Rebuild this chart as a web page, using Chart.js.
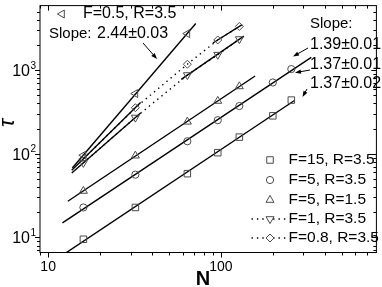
<!DOCTYPE html>
<html>
<head>
<meta charset="utf-8">
<script src="https://cdn.jsdelivr.net/npm/chart.js@4.4.0/dist/chart.umd.min.js"></script>
<style>
    html, body { margin: 0; padding: 0; background: #fff; }
    #wrap { width: 382px; height: 287px; position: relative; }
</style>
</head>
<body>
<div id="wrap"><canvas id="tauChart"></canvas></div>
<script>
// ===== DATA =====
const nAll = [16, 32, 64, 96, 128, 200, 256];
const nShort = [16, 32, 64, 96, 128];
const nF05 = [16, 32, 64];

const tauF15 = [9.5, 22.8, 57.8, 103, 158, 284, 438];
const tauF5R35 = [22.8, 56.2, 141, 252, 372, 711, 1028];
const tauF5R15 = [35.9, 94.8, 241, 427, 638];
const tauF1 = [78, 271, 873, 1528, 2350];
const tauF08 = [87, 355, 1175, 2291, 3322];
const tauF05 = [96, 524, 2730];

const seriesLabels = ['F=15, R=3.5', 'F=5, R=3.5', 'F=5, R=1.5', 'F=1, R=3.5', 'F=0.8, R=3.5'];
const labelF05 = 'F=0.5, R=3.5';

// power-law fits: series, first/last point used, N range of the drawn line
const fitSeries = ['F15', 'F5R35', 'F5R15', 'F1', 'F1', 'F08', 'F08', 'F05'];
const fitFirst  = [0, 0, 0, 0, 2, 0, 3, 0];
const fitLast   = [6, 6, 4, 1, 4, 1, 4, 2];
const fitFrom   = [12, 12.1, 13, 13.7, 59, 13.7, 90, 13.8];
const fitTo     = [267, 334, 158, 34.3, 136, 34.3, 133, 71.6];

const xTickVals = [10, 100];
const xTickLabels = ['10', '100'];
const yTickVals = [10, 100, 1000];
const yTickExp = ['1', '2', '3'];

const slopeLeft = '2.44±0.03';
const slopeRight = ['1.39±0.01', '1.37±0.01', '1.37±0.02'];

// ===== HELPERS =====
const FONT = '"Liberation Sans", Arial, Helvetica, sans-serif';
const markerGray = '#4a4a4a';

const seriesN = { F15: nAll, F5R35: nAll, F5R15: nShort, F1: nShort, F08: nShort, F05: nF05 };
const seriesTau = { F15: tauF15, F5R35: tauF5R35, F5R15: tauF5R15, F1: tauF1, F08: tauF08, F05: tauF05 };

function toPoints(xs, ys) {
    return xs.map((x, i) => ({ x: x, y: ys[i] }));
}

// least squares in log-log space
function fitLine(key, i0, i1, from, to) {
    const lx = seriesN[key].slice(i0, i1 + 1).map(Math.log10);
    const ly = seriesTau[key].slice(i0, i1 + 1).map(Math.log10);
    const n = lx.length;
    const mx = lx.reduce((a, b) => a + b, 0) / n;
    const my = ly.reduce((a, b) => a + b, 0) / n;
    let sxy = 0, sxx = 0;
    for (let i = 0; i < n; i++) {
        sxy += (lx[i] - mx) * (ly[i] - my);
        sxx += (lx[i] - mx) * (lx[i] - mx);
    }
    const k = sxy / sxx;
    const f = N => Math.pow(10, my + k * (Math.log10(N) - mx));
    return [{ x: from, y: f(from) }, { x: to, y: f(to) }];
}

const markerSets = [
    { label: seriesLabels[0], data: toPoints(nAll, tauF15), pointStyle: 'rect', pointRadius: 4.6, rotation: 0, legendRow: 0 },
    { label: seriesLabels[1], data: toPoints(nAll, tauF5R35), pointStyle: 'circle', pointRadius: 3.6, rotation: 0, legendRow: 1 },
    { label: seriesLabels[2], data: toPoints(nShort, tauF5R15), pointStyle: 'triangle', pointRadius: 4.6, rotation: 0, legendRow: 2 },
    { label: seriesLabels[3], data: toPoints(nShort, tauF1), pointStyle: 'triangle', pointRadius: 4.6, rotation: 180, legendRow: 3, dotted: true },
    { label: seriesLabels[4], data: toPoints(nShort, tauF08), pointStyle: 'rectRot', pointRadius: 4, rotation: 0, legendRow: 4, dotted: true },
    { label: labelF05, data: toPoints(nF05, tauF05), pointStyle: 'triangle', pointRadius: 4.6, rotation: 270 }
].map(d => Object.assign(d, {
    showLine: !!d.dotted,
    borderColor: '#000',
    borderWidth: 1.4,
    borderDash: [1.4, 4],
    pointBorderColor: markerGray,
    pointBackgroundColor: 'rgba(0,0,0,0)',
    pointBorderWidth: 1
}));

const fitSets = fitSeries.map((key, i) => ({
    label: 'fit ' + key,
    data: fitLine(key, fitFirst[i], fitLast[i], fitFrom[i], fitTo[i]),
    showLine: true,
    borderColor: '#000',
    borderWidth: 1.4,
    pointRadius: 0
}));

// ===== FRAME, TICKS, TEXTS =====
function arrow(ctx, x1, y1, x2, y2) {
    const ang = Math.atan2(y2 - y1, x2 - x1);
    ctx.beginPath();
    ctx.moveTo(x1, y1);
    ctx.lineTo(x2 - 4 * Math.cos(ang), y2 - 4 * Math.sin(ang));
    ctx.stroke();
    ctx.beginPath();
    ctx.moveTo(x2, y2);
    ctx.lineTo(x2 - 6 * Math.cos(ang) + 2.2 * Math.sin(ang), y2 - 6 * Math.sin(ang) - 2.2 * Math.cos(ang));
    ctx.lineTo(x2 - 6 * Math.cos(ang) - 2.2 * Math.sin(ang), y2 - 6 * Math.sin(ang) + 2.2 * Math.cos(ang));
    ctx.closePath();
    ctx.fill();
}

const framePlugin = {
    id: 'frame',
    afterDatasetsDraw(chart) {
        const { ctx, chartArea: a } = chart;
        const xs = chart.scales.x, ys = chart.scales.y;
        ctx.save();
        ctx.strokeStyle = '#000';
        ctx.fillStyle = '#000';
        ctx.lineWidth = 1;
        ctx.strokeRect(a.left, a.top, a.right - a.left, a.bottom - a.top);

        const seg = (x1, y1, x2, y2) => {
            ctx.beginPath(); ctx.moveTo(x1, y1); ctx.lineTo(x2, y2); ctx.stroke();
        };
        [1, 10, 100, 1000].forEach(d => {
            for (let m = 1; m <= 9; m++) {
                const v = m * d;
                const len = m === 1 ? 5 : 3;
                if (v >= xs.min && v <= xs.max) {
                    const px = Math.round(xs.getPixelForValue(v)) + 0.5;
                    seg(px, a.bottom, px, a.bottom + len);
                    seg(px, a.top, px, a.top + len);
                }
                if (v >= ys.min && v <= ys.max) {
                    const py = Math.round(ys.getPixelForValue(v)) + 0.5;
                    seg(a.left - len, py, a.left, py);
                    seg(a.right - len, py, a.right, py);
                }
            }
        });

        // tick labels
        ctx.font = '14px ' + FONT;
        ctx.textAlign = 'center';
        ctx.textBaseline = 'middle';
        xTickVals.forEach((v, i) => {
            ctx.fillText(xTickLabels[i], xs.getPixelForValue(v), a.bottom + 14.5);
        });
        yTickVals.forEach((v, i) => {
            const py = ys.getPixelForValue(v);
            ctx.font = '10px ' + FONT;
            ctx.textAlign = 'right';
            const ew = ctx.measureText(yTickExp[i]).width;
            ctx.fillText(yTickExp[i], 36, py - 4);
            ctx.font = '16px ' + FONT;
            ctx.fillText('10', 36 - ew - 0.5, py + 1.5);
        });

        // axis titles
        ctx.font = 'bold 20px ' + FONT;
        ctx.textAlign = 'center';
        ctx.fillText('N', 203, 279);
        ctx.save();
        ctx.translate(8, 123);
        ctx.rotate(-Math.PI / 2);
        ctx.font = 'italic 22px ' + FONT;
        ctx.fillText('τ', 0, 0);
        ctx.restore();

        // slope annotations
        ctx.textAlign = 'left';
        ctx.font = '16px ' + FONT;
        ctx.fillText(labelF05, 83, 14);
        ctx.font = '15px ' + FONT;
        ctx.fillText('Slope:', 49, 34);
        ctx.font = '16px ' + FONT;
        ctx.fillText(slopeLeft, 97, 34);
        arrow(ctx, 143, 43, 157, 59);

        ctx.font = '15px ' + FONT;
        ctx.fillText('Slope:', 310, 24);
        ctx.font = '16px ' + FONT;
        [45, 65, 83.5].forEach((ty, i) => ctx.fillText(slopeRight[i], 310, ty));
        arrow(ctx, 308, 48, 293, 56.5);
        arrow(ctx, 310, 70, 295, 72.7);
        arrow(ctx, 307, 89, 302.5, 97);

        // legend
        const rowsY = [160, 180, 200, 219, 238];
        chart.data.datasets.forEach(ds => {
            const opts = { pointStyle: ds.pointStyle, radius: ds.pointRadius, rotation: ds.rotation, borderWidth: 1 };
            let lx = 270, ly;
            if (ds.legendRow === undefined) {
                if (!ds.pointStyle || ds.label !== labelF05) return;
                lx = 62; ly = 14;
            } else {
                ly = rowsY[ds.legendRow];
            }
            if (ds.dotted) {
                ctx.save();
                ctx.setLineDash(ds.borderDash);
                ctx.lineWidth = ds.borderWidth;
                seg(251.5, ly, 288, ly);
                ctx.restore();
            }
            ctx.save();
            ctx.strokeStyle = markerGray;
            ctx.fillStyle = ds.dotted ? '#fff' : 'rgba(0,0,0,0)';
            Chart.helpers.drawPoint(ctx, opts, lx, ly);
            ctx.restore();
            if (ds.legendRow !== undefined) {
                ctx.font = '15.5px ' + FONT;
                ctx.fillText(ds.label, 288.5, ly);
            }
        });
        ctx.restore();
    }
};

new Chart(document.getElementById('tauChart'), {
    type: 'scatter',
    data: { datasets: markerSets.concat(fitSets) },
    options: {
        responsive: true,
        maintainAspectRatio: false,
        animation: false,
        events: [],
        layout: { padding: { top: 1, right: 1, left: 0, bottom: 0 } },
        plugins: { legend: { display: false }, tooltip: { enabled: false } },
        scales: {
            x: {
                type: 'logarithmic', min: 8.97, max: 796,
                ticks: { display: false }, grid: { display: false }, border: { display: false },
                afterFit: s => { s.height = 34.5; }
            },
            y: {
                type: 'logarithmic', min: 6.6, max: 5900,
                ticks: { display: false }, grid: { display: false }, border: { display: false },
                afterFit: s => { s.width = 40; }
            }
        }
    },
    plugins: [framePlugin]
});
</script>
</body>
</html>
